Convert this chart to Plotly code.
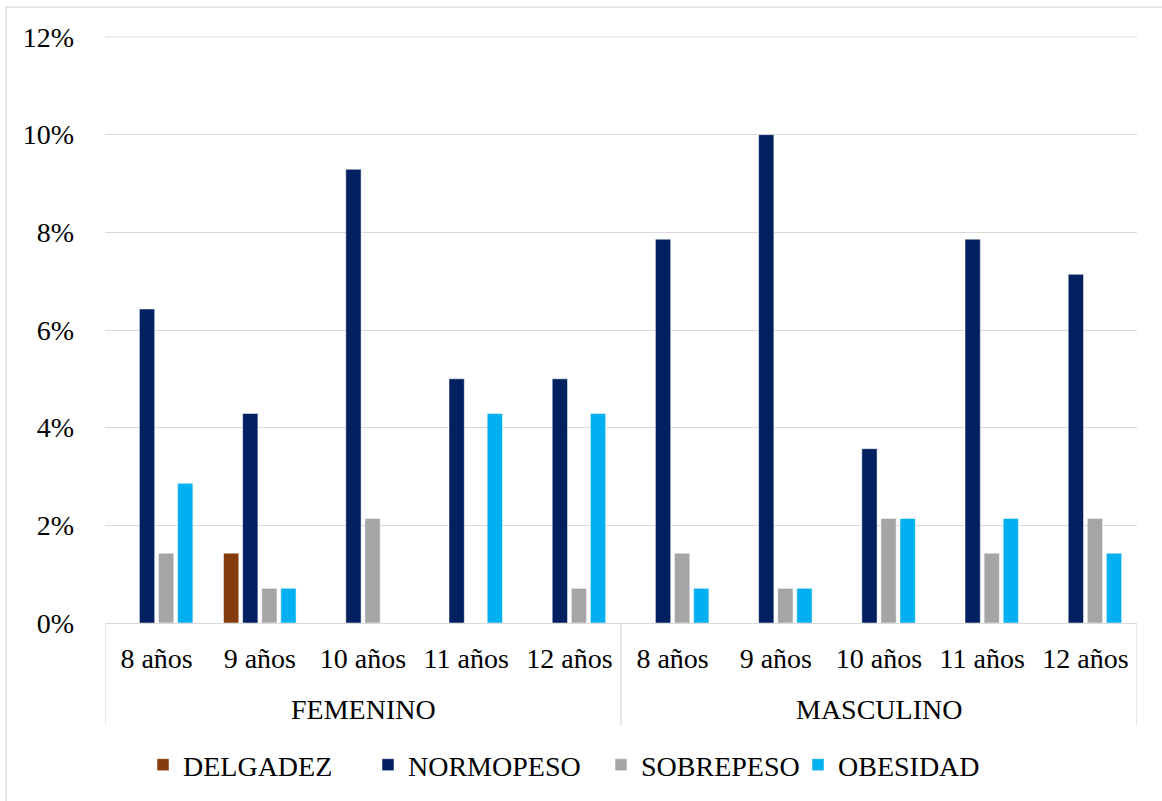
import plotly.graph_objects as go

groups = ["FEMENINO", "MASCULINO"]
ages = ["8 años", "9 años", "10 años", "11 años", "12 años"]

delgadez = [0, 1.43, 0, 0, 0, 0, 0, 0, 0, 0]
normopeso = [6.43, 4.29, 9.29, 5.0, 5.0, 7.86, 10.0, 3.57, 7.86, 7.14]
sobrepeso = [1.43, 0.71, 2.14, 0, 0.71, 1.43, 0.71, 2.14, 1.43, 2.14]
obesidad = [2.86, 0.71, 0, 4.29, 4.29, 0.71, 0.71, 2.14, 2.14, 1.43]

series = [
    ("DELGADEZ", delgadez, "#843c0c"),
    ("NORMOPESO", normopeso, "#002060"),
    ("SOBREPESO", sobrepeso, "#a5a5a5"),
    ("OBESIDAD", obesidad, "#00b0f0"),
]

font_family = "Liberation Serif, Times New Roman, serif"
fs = 28
grid_color = "#d9d9d9"

# plot area in pixels: x 105..1137, y 37..624
PL, PR, PT, PB = 105, 1137, 37, 624
W, H = 1162, 801


def px_x(px):
    return (px - PL) / (PR - PL)


def px_y(py):
    return (PB - py) / (PB - PT)


n_groups = len(groups)
n_ages = len(ages)
positions = list(range(n_groups * n_ages))
tick_text = ages * n_groups

# one legend per series so entries sit at their own offsets
legend_text_x = [185, 410, 643, 840]
legend_names = ["legend", "legend2", "legend3", "legend4"]

fig = go.Figure()
for (name, vals, color), lg in zip(series, legend_names):
    fig.add_trace(go.Bar(
        x=positions,
        y=[v / 100 for v in vals],
        name=name,
        legend=lg,
        marker=dict(color=color, line=dict(color="white", width=0.5)),
    ))

legend_layout = {}
for lg, tx in zip(legend_names, legend_text_x):
    legend_layout[lg] = dict(
        orientation="h",
        x=px_x(tx - 42), xanchor="left",
        y=px_y(765), yanchor="middle",
        font=dict(size=fs, family=font_family),
        itemwidth=30,
        bgcolor="rgba(0,0,0,0)",
    )

shapes = [
    # outer chart border
    dict(type="rect", xref="paper", yref="paper",
         x0=px_x(6), x1=px_x(1175), y0=px_y(815), y1=px_y(7),
         line=dict(color=grid_color, width=1.2),
         fillcolor="rgba(0,0,0,0)", layer="below"),
    # top gridline at 12%
    dict(type="line", xref="paper", yref="paper",
         x0=0, x1=1, y0=1, y1=1,
         line=dict(color=grid_color, width=1), layer="below"),
]
# group dividers below the category axis
for b in range(n_groups + 1):
    xb = b * n_ages - 0.5
    shapes.append(dict(type="line", xref="x", yref="paper",
                       x0=xb, x1=xb, y0=0, y1=px_y(727),
                       line=dict(color=grid_color, width=1.2)))

annotations = []
for g, name in enumerate(groups):
    annotations.append(dict(
        x=g * n_ages + (n_ages - 1) / 2, xref="x",
        y=px_y(711), yref="paper",
        text=name, showarrow=False,
        xanchor="center", yanchor="middle",
        font=dict(size=fs, family=font_family, color="#000000"),
    ))

fig.update_layout(
    width=W,
    height=H,
    barmode="group",
    bargap=0.26,
    bargroupgap=0.2,
    plot_bgcolor="white",
    paper_bgcolor="white",
    margin=dict(l=PL, r=W - PR, t=PT, b=H - PB),
    font=dict(family=font_family, size=fs, color="#000000"),
    showlegend=True,
    xaxis=dict(
        range=[-0.5, n_groups * n_ages - 0.5],
        tickmode="array",
        tickvals=positions,
        ticktext=tick_text,
        showgrid=False,
        zeroline=False,
        showline=True,
        linecolor=grid_color,
        linewidth=1,
        ticks="",
        tickfont=dict(size=fs),
        ticklabelstandoff=10,
    ),
    yaxis=dict(
        range=[0, 0.12],
        tickvals=[0, 0.02, 0.04, 0.06, 0.08, 0.10, 0.12],
        tickformat=".0%",
        showgrid=True,
        gridcolor=grid_color,
        gridwidth=1,
        zeroline=False,
        tickfont=dict(size=fs),
        ticklabelstandoff=30,
    ),
    shapes=shapes,
    annotations=annotations,
    **legend_layout,
)

fig.write_html("out.html")
